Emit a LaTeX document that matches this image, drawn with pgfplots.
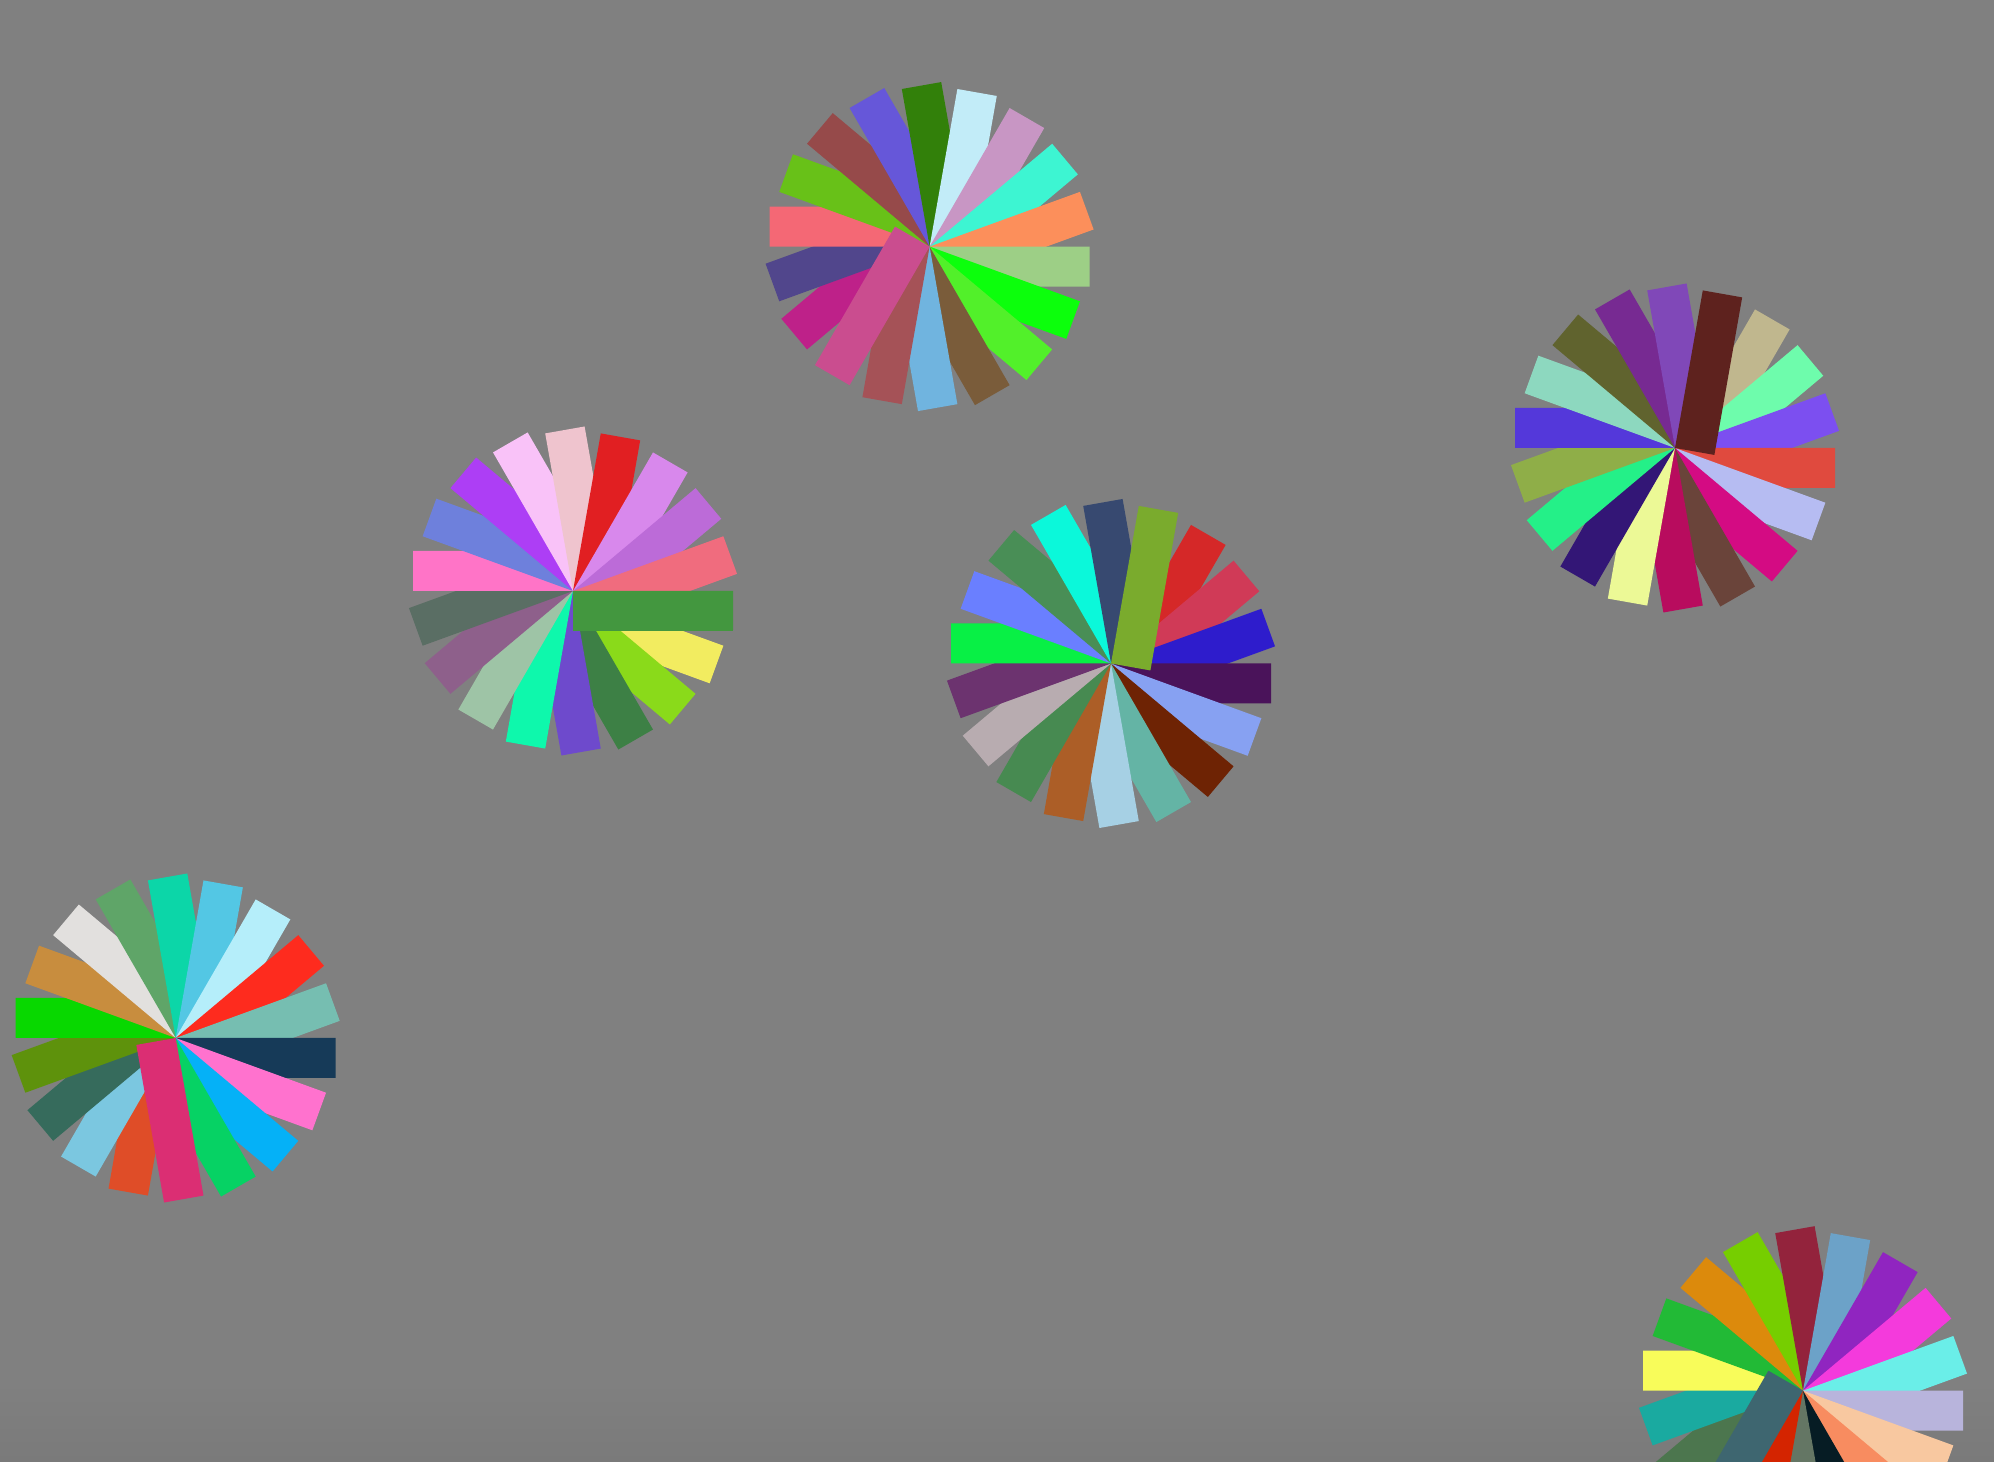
\documentclass[border=0pt]{standalone}
\usepackage{pgfplots}
\pgfplotsset{compat=1.18}

\definecolor{bg}{HTML}{808080}
\definecolor{bgdark}{HTML}{7A7A7A}

% one petal: rectangle 160 x 40 with a corner on the wheel centre,
% long side along the ray at angle #1, body on the clockwise side
\newcount\pc
\newcommand\petal[2]{%
  \global\advance\pc by 1
  \xglobal\definecolor{pc\the\pc}{HTML}{#2}%
  \pgfmathsetmacro\pa{#1-14.036}%
  \pgfmathsetmacro\pb{#1-90}%
  \edef\tmp{\noexpand\addplot[data cs=polar, draw=none, fill=pc\the\pc]
    coordinates {(0,0) (#1,160) (\pa,164.92) (\pb,40)};}%
  \tmp}

\pgfplotsset{wheel/.style={
  hide axis, scale only axis,
  width=170pt, height=170pt,
  xmin=-170, xmax=170, ymin=-170, ymax=170,
  anchor=center}}

\begin{document}
\begin{tikzpicture}
\useasboundingbox (0,0) rectangle (997pt,731pt);
\clip (0,0) rectangle (997pt,731pt);
\fill[bg] (0,0) rectangle (997pt,731pt);
\shade[bottom color=bgdark, top color=bg] (0,0) rectangle (997pt,40pt);

% top
\begin{axis}[wheel, at={(464.8pt,607.7pt)}]
\petal{220}{BE2189}
\petal{200}{51468C}
\petal{180}{F46875}
\petal{160}{68C118}
\petal{140}{964A4A}
\petal{120}{6657D9}
\petal{100}{32800A}
\petal{80}{C2ECF8}
\petal{60}{C896C4}
\petal{40}{3DF5D2}
\petal{20}{FC8F5B}
\petal{0}{9DCF86}
\petal{-20}{0CFF0C}
\petal{-40}{52F02A}
\petal{-60}{7A5C3A}
\petal{-80}{70B4DF}
\petal{-100}{A55257}
\petal{-120}{CA4D8F}
\end{axis}

% middle left
\begin{axis}[wheel, at={(286.5pt,435.5pt)}]
\petal{340}{F2EC60}
\petal{320}{8ADA1A}
\petal{300}{3D8045}
\petal{280}{6E4ACC}
\petal{260}{0EF8AC}
\petal{240}{9EC4A6}
\petal{220}{8E608B}
\petal{200}{5A6E64}
\petal{180}{FF74C7}
\petal{160}{6E80DC}
\petal{140}{AD3EF5}
\petal{120}{F9C2F8}
\petal{100}{EFC4CE}
\petal{80}{E11F22}
\petal{60}{D888EC}
\petal{40}{BC6BD8}
\petal{20}{F06C7E}
\petal{0}{43973F}
\end{axis}

% right
\begin{axis}[wheel, at={(837.5pt,507pt)}]
\petal{60}{C0B78E}
\petal{40}{6EFCAC}
\petal{20}{7C4FF0}
\petal{0}{E04A3E}
\petal{-20}{B6BCF2}
\petal{-40}{D40B83}
\petal{-60}{6A443A}
\petal{-80}{B80C5E}
\petal{-100}{ECF996}
\petal{-120}{331676}
\petal{-140}{24F088}
\petal{-160}{8FAE48}
\petal{-180}{5438DA}
\petal{-200}{8DD8BF}
\petal{-220}{60632E}
\petal{-240}{772A92}
\petal{-260}{8048B8}
\petal{-280}{5E221E}
\end{axis}

% centre
\begin{axis}[wheel, at={(555.5pt,399.25pt)}]
\petal{60}{D52828}
\petal{40}{D03A57}
\petal{20}{2E1CCC}
\petal{0}{4A135A}
\petal{-20}{87A1F2}
\petal{-40}{6E2304}
\petal{-60}{64B4A5}
\petal{-80}{A6D0E4}
\petal{-100}{AC5E27}
\petal{-120}{478A51}
\petal{-140}{B8ACB0}
\petal{-160}{6C336F}
\petal{-180}{08F045}
\petal{-200}{6A7FFF}
\petal{-220}{498E56}
\petal{-240}{0BF8DA}
\petal{-260}{374970}
\petal{-280}{7AAB2D}
\end{axis}

% bottom left
\begin{axis}[wheel, at={(87.85pt,212pt)}]
\petal{260}{DF4D28}
\petal{240}{7BC7E0}
\petal{220}{366B5C}
\petal{200}{5E920C}
\petal{180}{08D800}
\petal{160}{C88D3E}
\petal{140}{E2E0DE}
\petal{120}{5FA568}
\petal{100}{0CD6A8}
\petal{80}{53C7E4}
\petal{60}{B5EEFA}
\petal{40}{FE2B1E}
\petal{20}{76BEB1}
\petal{0}{163A58}
\petal{-20}{FF72CE}
\petal{-40}{05B1F7}
\petal{-60}{06D264}
\petal{-80}{DB2E73}
\end{axis}

% bottom right
\begin{axis}[wheel, at={(901.5pt,35.65pt)}]
\petal{220}{4C764E}
\petal{200}{1AAAA0}
\petal{180}{F8FC5A}
\petal{160}{22BA36}
\petal{140}{DC8A0C}
\petal{120}{76CE00}
\petal{100}{93233C}
\petal{80}{6CA2C8}
\petal{60}{9025C0}
\petal{40}{F43ADC}
\petal{20}{6AEEE8}
\petal{0}{B8B4DC}
\petal{-20}{F8C8A0}
\petal{-40}{F88C60}
\petal{-60}{061C24}
\petal{-80}{647664}
\petal{-100}{D42400}
\petal{-120}{3E6670}
\end{axis}
\end{tikzpicture}
\end{document}
